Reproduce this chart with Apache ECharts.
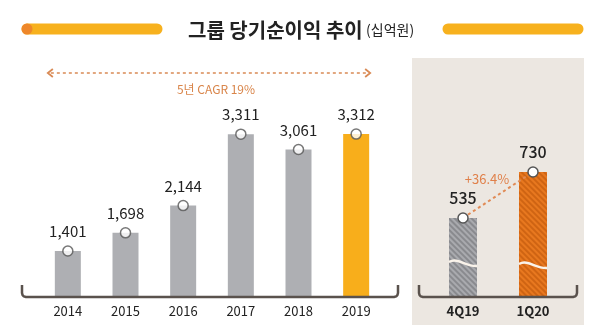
<!DOCTYPE html>
<html><head><meta charset="utf-8">
<script src="https://cdn.jsdelivr.net/npm/echarts@6/dist/echarts.min.js"></script>
<style>html,body{margin:0;padding:0;background:#fff}#c{width:600px;height:335px}</style>
</head><body><div id="c"></div>
<script>
var years = ['2014','2015','2016','2017','2018','2019'];
var yearValues = [1401, 1698, 2144, 3311, 3061, 3312];
var quarters = ['4Q19','1Q20'];
var quarterValues = [535, 730];
var titleMain = '그룹 당기순이익 추이';
var titleUnit = '(십억원)';
var cagrText = '5년 CAGR 19%';
var qoqText = '+36.4%';

var FONT = "'Noto Sans CJK KR','Noto Sans',sans-serif";
var chart = echarts.init(document.getElementById('c'), null, {renderer:'canvas'});

function hatch(col){
  return {symbol:'rect', color:col, dashArrayX:[1,0], dashArrayY:[1.2,1.8], rotation:Math.PI/4, symbolSize:1};
}

var option = {
  animation:false,
  backgroundColor:'#fff',
  textStyle:{fontFamily:FONT},
  grid:[
    {left:39, width:346, top:92, bottom:38},
    {left:428, width:140, top:92, bottom:38}
  ],
  xAxis:[
    {type:'category', gridIndex:0, data:years, axisLine:{show:false}, axisTick:{show:false},
     axisLabel:{margin:8, fontSize:13, color:'#222', fontFamily:FONT}},
    {type:'category', gridIndex:1, data:quarters, axisLine:{show:false}, axisTick:{show:false},
     axisLabel:{margin:8, fontSize:13, color:'#222', fontWeight:'bold', fontFamily:FONT}}
  ],
  yAxis:[
    {type:'value', gridIndex:0, min:650, max:4000, show:false, splitLine:{show:false}},
    {type:'value', gridIndex:1, min:200, max:1069, show:false, splitLine:{show:false}}
  ],
  series:[
    {type:'bar', xAxisIndex:0, yAxisIndex:0, barWidth:26,
     data: yearValues.map(function(v,i){
       return {value:v, itemStyle:{color: i===yearValues.length-1 ? '#F8AE1B' : '#AEAFB3'}};
     }),
     label:{show:true, position:'top', distance:12, fontSize:15, color:'#222', fontFamily:FONT,
       formatter:function(p){return p.value.toLocaleString('en-US');}}
    },
    {type:'scatter', xAxisIndex:0, yAxisIndex:0, data:yearValues, symbol:'circle', symbolSize:10, z:5,
     itemStyle:{color:'#fff', borderColor:'#555', borderWidth:1.5}},
    {type:'bar', xAxisIndex:1, yAxisIndex:1, barWidth:28,
     data: quarterValues.map(function(v,i){
       return {value:v, itemStyle:{color: i===0 ? '#A9AAAE' : '#E8781F',
         decal: hatch(i===0 ? 'rgba(90,90,95,0.4)' : 'rgba(170,70,0,0.4)')}};
     }),
     label:{show:true, position:'top', distance:12, fontSize:16, color:'#222', fontWeight:500, fontFamily:FONT}
    },
    {type:'line', xAxisIndex:1, yAxisIndex:1, data:quarterValues, symbol:'circle', symbolSize:10, z:5,
     lineStyle:{color:'#E08A55', width:2, type:[3,3]},
     itemStyle:{color:'#fff', borderColor:'#555', borderWidth:1.5}}
  ]
};
chart.setOption(option);

function px(gi, cat, val){ return chart.convertToPixel({gridIndex:gi}, [cat, val]); }

function bracket(xa, xb, base){
  var pts = [[xa, base-12],[xa, base-4],[xa+0.6, base-1.8],[xa+1.8, base-0.6],[xa+4, base],
             [xb-4, base],[xb-1.8, base-0.6],[xb-0.6, base-1.8],[xb, base-4],[xb, base-12]];
  return {type:'polyline', shape:{points:pts}, style:{stroke:'#5A524D', lineWidth:2.5, fill:null, lineJoin:'round'}, z:10};
}

var g = [];
g.push({type:'rect', shape:{x:412, y:58, width:172, height:267}, style:{fill:'#ECE7E1'}, z:-10});
g.push({type:'line', shape:{x1:27, y1:29, x2:157, y2:29}, style:{stroke:'#F7B11E', lineWidth:11, lineCap:'round'}});
g.push({type:'circle', shape:{cx:27, cy:29, r:5.5}, style:{fill:'#EE872A'}, z:2});
g.push({type:'line', shape:{x1:448, y1:29, x2:578, y2:29}, style:{stroke:'#F7B11E', lineWidth:11, lineCap:'round'}});
g.push({type:'text', x:188, y:30, style:{
  text:'{a|'+titleMain+'} {b|'+titleUnit+'}', verticalAlign:'middle', align:'left',
  rich:{a:{fontSize:20, fontWeight:'bold', fill:'#222', fontFamily:FONT},
        b:{fontSize:14, fill:'#222', fontFamily:FONT}}
}});
var base0 = px(0, years[0], 650)[1];
g.push(bracket(22, 398, base0));
g.push(bracket(419, 577, base0));
var pL = px(0, years[0], 650)[0] - 20, pR = px(0, years[years.length-1], 650)[0] + 14;
g.push({type:'line', shape:{x1:pL+3, y1:73, x2:pR-3, y2:73}, style:{stroke:'#D98A55', lineWidth:1.5, lineDash:[3,3]}});
g.push({type:'polyline', shape:{points:[[pL+5,69],[pL,73],[pL+5,77]]}, style:{stroke:'#D98A55', lineWidth:1.8, fill:null}});
g.push({type:'polyline', shape:{points:[[pR-5,69],[pR,73],[pR-5,77]]}, style:{stroke:'#D98A55', lineWidth:1.8, fill:null}});
g.push({type:'text', x:(pL+pR)/2 + 7, y:89, style:{text:cagrText, align:'center', verticalAlign:'middle', fontSize:12, fill:'#D9854A', fontFamily:FONT}});
var q0 = px(1, quarters[0], quarterValues[0]), q1 = px(1, quarters[1], quarterValues[1]);
g.push({type:'text', x:(q0[0]+q1[0])/2 - 11, y:(q0[1]+q1[1])/2 - 16, style:{text:qoqText, align:'center', verticalAlign:'middle', fontSize:13, fill:'#E0804A', fontFamily:FONT}});
quarters.forEach(function(q, i){
  var c = px(1, q, 200);
  var y = c[1] - 35 + i*2, hw = 14;
  var x0 = c[0]-hw, x1 = c[0]+hw;
  g.push({type:'bezierCurve', shape:{x1:x0, y1:y, cpx1:x0+9, cpy1:y-5, cpx2:x1-11, cpy2:y+5, x2:x1, y2:y+4},
    style:{stroke:'#FAF3EA', lineWidth:2.5, fill:null}, z:20});
});
chart.setOption({graphic:g});
</script></body></html>
